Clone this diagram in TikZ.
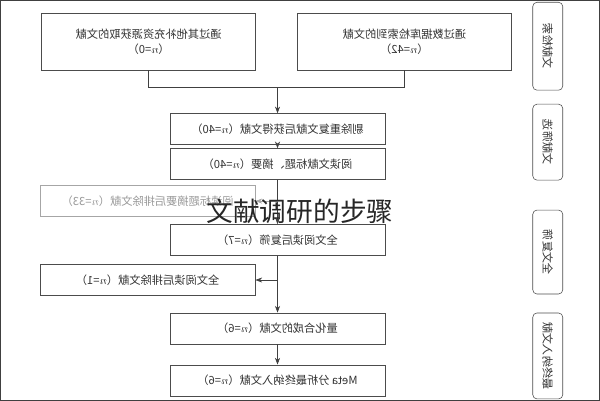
\documentclass[tikz,border=0pt]{standalone}
\usepackage{fontspec}
\newfontfamily\cjk{Noto Sans CJK SC}
\usetikzlibrary{arrows.meta}
\usetikzlibrary{calc}

\begin{document}
\begin{tikzpicture}[x=0.025cm,y=-0.025cm]
        \tikzset{>=Stealth}
        \tikzstyle{every path}=[thin,draw=black!75]
        \tikzstyle{flowbox}=[rectangle,draw=black!70,fill=white,xscale=-1,align=center,font=\cjk\fontsize{8}{11}\selectfont,text=black!80,minimum height=0.78cm,inner sep=1pt]
        \tikzstyle{stagebox}=[rectangle,rounded corners=3pt,draw=black!70,xscale=-1,rotate=90,font=\cjk\fontsize{8}{9}\selectfont,text=black!80,minimum height=0.75cm]
        \useasboundingbox (0,0) rectangle (600,400);

        \node [flowbox, minimum width=5.35cm, minimum height=1.42cm] (other) at (148.5,41.5) {通过其他补充资源获取的文献\\（$n$=0）};
        \node [flowbox, minimum width=5.35cm, minimum height=1.42cm] (db) at (404.5,41.5) {通过数据库检索到的文献\\（$n$=42）};
        \node [flowbox, minimum width=5.38cm] (dedup) at (277.5,129) {剔除重复文献后获得文献（$n$=40）};
        \node [flowbox, minimum width=5.38cm] (title) at (277.5,164) {阅读文献标题、摘要（$n$=40）};
        \node [flowbox, minimum width=5.38cm, draw=black!35, text=black!40] (excl1) at (147.5,201) {阅读标题摘要后排除文献（$n$=33）};
        \node [flowbox, minimum width=5.38cm] (full) at (277.5,240) {全文阅读后复筛（$n$=7）};
        \node [flowbox, minimum width=5.38cm] (excl2) at (147.5,280) {全文阅读后排除文献（$n$=1）};
        \node [flowbox, minimum width=5.38cm] (synth) at (277.5,328.5) {量化合成的文献（$n$=6）};
        \node [flowbox, minimum width=5.38cm] (meta) at (277.5,380.5) {Meta 分析最终纳入文献（$n$=6）};

        \node [stagebox, minimum width=2.2cm] (s1) at (548,46) {文献检索};
        \node [stagebox, minimum width=1.9cm] (s2) at (548,142) {文献筛选};
        \node [stagebox, minimum width=2.1cm] (s3) at (548,252) {全文复筛};
        \node [stagebox, minimum width=2.15cm] (s4) at (548,356) {最终纳入文献};

        \coordinate (join) at (277.5,87);
        \coordinate (tap1) at (277.5,201);
        \coordinate (tap2) at (277.5,280);
        \draw (other.south) |- (join);
        \draw (db.south) |- (join);
        \draw [->] (join) -- (dedup);
        \draw [->] (dedup) -- (title);
        \draw [->] (title) -- (full);
        \draw [->,draw=black!35] (tap1) -- (excl1.west);
        \draw [->] (full) -- (synth);
        \draw [->] (tap2) -- (excl2.west);
        \draw [->] (synth) -- (meta);

        \node [font=\cjk\fontsize{19}{22}\selectfont, text=black!85, inner sep=0pt] (caption) at (300,211) {文献调研的步骤};
\end{tikzpicture}
\end{document}
